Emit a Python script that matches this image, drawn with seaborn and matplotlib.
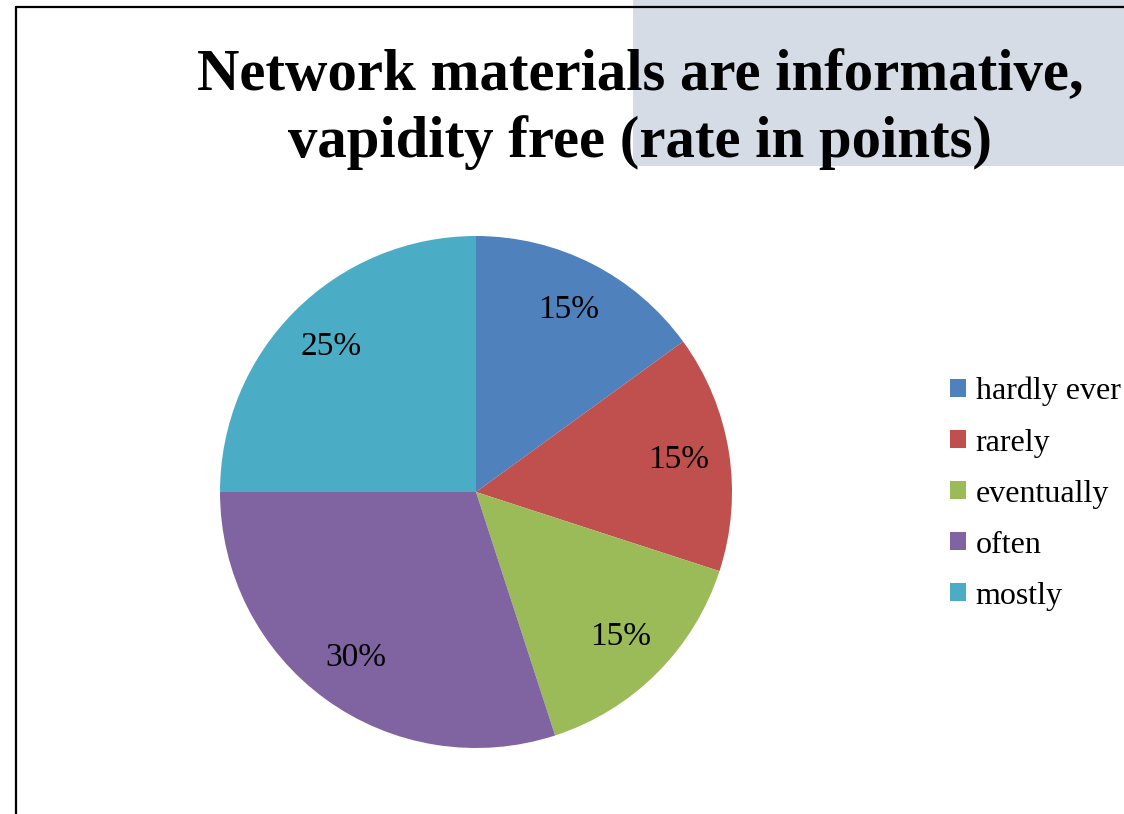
import matplotlib
matplotlib.use("Agg")
import matplotlib.pyplot as plt
import seaborn as sns
from matplotlib.patches import Rectangle
from matplotlib.lines import Line2D

categories = ["hardly ever", "rarely", "eventually", "often", "mostly"]
values = [15, 15, 15, 30, 25]
colors = ["#4F81BD", "#C0504D", "#9BBB59", "#8064A2", "#4BACC6"]
title_lines = ["Network materials are informative,", "vapidity free (rate in points)"]

sns.set_theme(style="white")
plt.rcParams['font.family'] = ['Liberation Serif', 'DejaVu Serif']
plt.rcParams['text.color'] = 'black'

W, H = 1124, 814
fig = plt.figure(figsize=(W / 100, H / 100), dpi=100)
fig.patch.set_facecolor("white")

# gray rectangle top-right
fig.add_artist(Rectangle((633 / W, 1 - 166 / H), 1 - 633 / W, 166 / H,
                         transform=fig.transFigure, facecolor="#D5DCE6",
                         edgecolor="none", zorder=0))
# border lines
fig.add_artist(Line2D([16 / W, 1], [1 - 7 / H, 1 - 7 / H], transform=fig.transFigure,
                      color="black", lw=1.6, zorder=1))
fig.add_artist(Line2D([16 / W, 16 / W], [0, 1 - 7 / H], transform=fig.transFigure,
                      color="black", lw=1.6, zorder=1))

# title
fig.text(640 / W, 1 - 90 / H, title_lines[0], ha="center", va="baseline",
         fontsize=42.3, fontweight="bold", color="black", zorder=3)
fig.text(640 / W, 1 - 157 / H, title_lines[1], ha="center", va="baseline",
         fontsize=42.3, fontweight="bold", color="black", zorder=3)

cx, cy, r = 476, 814 - 492, 256
ax = fig.add_axes([(cx - r) / W, (cy - r) / H, 2 * r / W, 2 * r / H])
wedges, texts, autotexts = ax.pie(
    values, colors=colors, startangle=90, counterclock=False,
    autopct=lambda p: f"{p:.0f}%", pctdistance=0.8, radius=1,
    wedgeprops=dict(linewidth=0),
    textprops=dict(fontsize=24, color="black"))
ax.set_xlim(-1, 1)
ax.set_ylim(-1, 1)
ax.set_aspect("equal")
ax.axis("off")

leg = fig.legend(wedges, categories, loc="upper left",
                 bbox_to_anchor=(950 / W, 1 - 377 / H), frameon=False,
                 fontsize=23, handlelength=0.5, handleheight=0.5, handletextpad=0.3,
                 labelspacing=0.69, borderpad=0, borderaxespad=0)
for t in leg.get_texts():
    t.set_color("black")

fig.savefig("out.png", dpi=100)
